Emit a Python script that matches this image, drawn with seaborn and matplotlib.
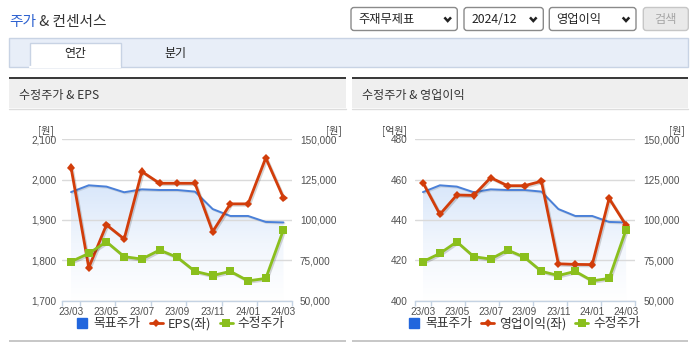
import numpy as np
import pandas as pd
import matplotlib
matplotlib.use("Agg")
import matplotlib.pyplot as plt
import seaborn as sns
from matplotlib.patches import Rectangle, FancyBboxPatch
from matplotlib.lines import Line2D
from matplotlib.colors import LinearSegmentedColormap
import matplotlib.patheffects as pe

# ---------------- data ----------------
months = ["23/03", "23/04", "23/05", "23/06", "23/07", "23/08", "23/09",
          "23/10", "23/11", "23/12", "24/01", "24/02", "24/03"]
target_price = [117300, 121500, 120700, 117200, 119000, 118600, 118600,
                117600, 106800, 102500, 102500, 98800, 98500]
adj_price = [74200, 79300, 86500, 77300, 75800, 81400, 76900,
             68200, 65600, 68200, 62300, 63800, 94000]
eps = [2030, 1782, 1888, 1853, 2020, 1991, 1991, 1991, 1871, 1940, 1940, 2054, 1955]
op_income = [458.5, 442.8, 452.4, 452.2, 461.0, 457.0, 457.0, 459.2,
             418.3, 418.0, 417.9, 450.7, 437.4]
eps_ticks = [1700, 1800, 1900, 2000, 2100]
op_ticks = [400, 420, 440, 460, 480]
price_ticks = [50000, 75000, 100000, 125000, 150000]

legend_target = "목표주가"
legend_eps = "EPS(좌)"
legend_op = "영업이익(좌)"
legend_adj = "수정주가"

# ---------------- style ----------------
sns.set_theme(style="white")
FONT_KR = ["Noto Sans CJK KR", "DejaVu Sans"]
FONT_NUM = ["Liberation Sans Narrow", "Liberation Sans", "DejaVu Sans"]
plt.rcParams["font.family"] = FONT_KR

BLUE_LINE = "#4a80d8"
BLUE_LEG = "#2266dd"
RED = "#d23d0a"
GREEN = "#8abf1d"
TXT = "#333333"
TICK_TXT = "#505050"

W, H = 695, 349
fig = plt.figure(figsize=(W / 100, H / 100), dpi=100, facecolor="white")

bg = fig.add_axes([0, 0, 1, 1])
bg.set_xlim(0, W)
bg.set_ylim(H, 0)
bg.axis("off")


def fr(x0, y0, x1, y1):
    return [x0 / W, 1 - y1 / H, (x1 - x0) / W, (y1 - y0) / H]


def rect(x0, y0, x1, y1, fc, ec="none", lw=0, **kw):
    bg.add_patch(Rectangle((x0, y0), x1 - x0, y1 - y0, facecolor=fc,
                           edgecolor=ec, linewidth=lw, **kw))


def rbox(x0, y0, x1, y1, fc, ec, lw=1.0):
    bg.add_patch(FancyBboxPatch((x0, y0), x1 - x0, y1 - y0,
                                boxstyle="round,pad=0,rounding_size=3",
                                facecolor=fc, edgecolor=ec, linewidth=lw))


def chevron(cx, cy):
    bg.plot([cx - 3.3, cx, cx + 3.3], [cy - 1.8, cy + 1.8, cy - 1.8],
            color="#222222", lw=1.8, solid_joinstyle="miter", solid_capstyle="butt")


# ---------------- page chrome ----------------
t1 = bg.text(9.5, 22, "주가", color="#2e62d0", fontsize=10.6, va="center", ha="left")
bg.annotate(" & 컨센서스", xy=(1, 0.5), xycoords=t1, va="center", ha="left",
            color=TXT, fontsize=10.6)

# dropdowns
rbox(351, 7.5, 457.3, 30.5, "white", "#8a8a8a")
bg.text(358.3, 19.2, "주재무제표", fontsize=8.8, color="#222", va="center", ha="left")
chevron(447.7, 19.2)
rbox(464, 7.5, 543.3, 30.5, "white", "#8a8a8a")
bg.text(471.7, 19.2, "2024/12", fontsize=8.8, color="#222", va="center", ha="left")
chevron(533.3, 19.2)
rbox(549.3, 7.5, 636, 30.5, "white", "#8a8a8a")
bg.text(556.7, 19.2, "영업이익", fontsize=8.8, color="#222", va="center", ha="left")
chevron(626, 19.2)
rbox(643.3, 7.5, 688.3, 30.5, "#e9e9e9", "#c6c6c6")
bg.text(665.8, 19.2, "검색", fontsize=8.8, color="#a6a6a6", va="center", ha="center")

# tab bar
rect(9, 37.5, 688.3, 66.5, "#e8eef8", "#c8d3e4", 1)
rect(29.5, 42.5, 120.5, 67.2, "white", "#c8d3e4", 1)
bg.plot([30, 120], [66.5, 66.5], color="white", lw=1.6)
bg.text(75, 53.8, "연간", fontsize=8.6, color="#222", va="center", ha="center")
bg.text(175.5, 53.8, "분기", fontsize=8.6, color="#222", va="center", ha="center")

# panels
for (px0, px1, title) in [(9, 346, "수정주가 & EPS"), (352, 688.3, "수정주가 & 영업이익")]:
    rect(px0, 76.8, px1, 79.2, "#3a3a3a")
    rect(px0, 79.2, px1, 108.5, "#efefef")
    bg.plot([px0, px1], [108.7, 108.7], color="#dddddd", lw=1)
    bg.text(px0 + 10.3, 95, title, fontsize=8.7, color=TXT, va="center", ha="left")
    rect(px0, 339.8, px1, 342.2, "#c8c8c8")


# ---------------- charts ----------------
def chart(x0, x1, left_vals, left_ticks, left_label, unit_left, unit_left_x,
          unit_right_x, lpad, rpad, legend_cx):
    y0, y1 = 139.3, 300.7
    xs = np.arange(len(months))
    df = pd.DataFrame({"x": xs, "target": target_price, "adj": adj_price,
                       "left": left_vals})

    ax0 = fig.add_axes(fr(x0, y0, x1, y1))
    ax0.set_facecolor("none")
    # gradient area under target price
    poly = ax0.fill_between(df["x"], df["target"], price_ticks[0],
                            facecolor="none", edgecolor="none")
    grad = np.linspace(0, 1, 256).reshape(-1, 1)
    cmap = LinearSegmentedColormap.from_list("g", ["#ffffff", "#f1f6fd", "#d9e7fa"])
    im = ax0.imshow(grad, cmap=cmap, aspect="auto", origin="lower",
                    extent=[xs[0], xs[-1], price_ticks[0], max(target_price)],
                    zorder=0.2, interpolation="bilinear")
    im.set_clip_path(poly.get_paths()[0], transform=ax0.transData)
    sns.lineplot(data=df, x="x", y="target", ax=ax0, color=BLUE_LINE,
                 linewidth=1.4, zorder=2)
    ax0.lines[-1].set_path_effects([pe.SimpleLineShadow(offset=(0.8, -0.8), alpha=0.12),
                                    pe.Normal()])

    ax1 = ax0.twinx()
    sns.lineplot(data=df, x="x", y="left", ax=ax1, color=RED, linewidth=2.0,
                 marker="D", markersize=4.2, markeredgewidth=0, zorder=3)
    ax1.lines[-1].set_path_effects([pe.SimpleLineShadow(offset=(1, -1), alpha=0.18),
                                    pe.Normal()])
    ax1.lines[-1].set_clip_on(False)

    ax2 = ax0.twinx()
    sns.lineplot(data=df, x="x", y="adj", ax=ax2, color=GREEN, linewidth=2.0,
                 marker="s", markersize=5.8, markeredgewidth=0, zorder=3)
    ax2.lines[-1].set_path_effects([pe.SimpleLineShadow(offset=(1, -1), alpha=0.18),
                                    pe.Normal()])
    ax2.lines[-1].set_clip_on(False)

    for a in (ax0, ax1, ax2):
        a.set_xlabel("")
        a.set_ylabel("")
        a.set_facecolor("none")
        for s in ("left", "right", "top"):
            a.spines[s].set_visible(False)
        a.set_xlim(-0.5, len(months) - 0.5)
    ax1.spines["bottom"].set_visible(False)
    ax2.spines["bottom"].set_visible(False)
    ax0.spines["bottom"].set_color("#c5d3e3")
    ax0.spines["bottom"].set_linewidth(1.0)

    ax0.set_ylim(price_ticks[0], price_ticks[-1])
    ax2.set_ylim(price_ticks[0], price_ticks[-1])
    ax1.set_ylim(left_ticks[0], left_ticks[-1])

    # right axis labels (price)
    ax0.yaxis.tick_right()
    ax0.set_yticks(price_ticks)
    ax0.set_yticklabels([f"{v:,}" for v in price_ticks], family=FONT_NUM)
    ax0.tick_params(axis="y", length=0, pad=rpad, labelsize=7.2, labelcolor=TICK_TXT)
    ax0.grid(axis="y", color="#dadada", linewidth=1)
    ax0.grid(axis="x", visible=False)
    ax0.set_axisbelow("line")

    # left axis labels
    ax1.yaxis.tick_left()
    ax1.set_yticks(left_ticks)
    ax1.set_yticklabels([f"{v:,}" for v in left_ticks], family=FONT_NUM)
    ax1.tick_params(axis="y", length=0, pad=lpad, labelsize=7.2, labelcolor=TICK_TXT)
    ax1.grid(False)
    ax2.set_yticks([])
    ax2.grid(False)

    # x axis
    major = [-0.5] + [v + 0.5 for v in xs[::2]]
    ax0.set_xticks(major)
    ax0.set_xticklabels([])
    ax0.set_xticks(xs[::2], minor=True)
    ax0.set_xticklabels(months[::2], minor=True, family=FONT_NUM)
    ax0.tick_params(axis="x", which="major", length=3.6, width=1, color="#c5d3e3",
                    direction="out", bottom=True)
    ax0.tick_params(axis="x", which="minor", length=0, pad=4.3, labelsize=7.2,
                    labelcolor=TICK_TXT, bottom=True)

    # units
    bg.text(unit_left_x, 131, unit_left, fontsize=7.2, color="#444", ha="center", va="center")
    bg.text(unit_right_x, 131, "[원]", fontsize=7.2, color="#444", ha="right", va="center")

    # legend
    handles = [
        Line2D([], [], marker="s", color=BLUE_LEG, linestyle="none", markersize=7.4),
        Line2D([], [], marker="D", color=RED, linewidth=2, markersize=4.2, markeredgewidth=0),
        Line2D([], [], marker="s", color=GREEN, linewidth=2, markersize=5.5, markeredgewidth=0),
    ]
    fig.legend(handles, [legend_target, left_label, legend_adj], loc="center",
               bbox_to_anchor=(legend_cx / W, 1 - 323.5 / H), ncol=3, frameon=False,
               handlelength=1.0, handletextpad=0.4, columnspacing=0.7,
               fontsize=9.2, borderpad=0, borderaxespad=0, labelcolor=TXT)


chart(62.2, 292.3, eps, eps_ticks, legend_eps, "[원]", 45.5, 342, 4.0, 5.5, 180.4)
chart(414.5, 634.5, op_income, op_ticks, legend_op, "[억원]", 394, 684.3, 5.0, 6.3, 523.9)

fig.savefig("out.png", dpi=100, facecolor="white")
